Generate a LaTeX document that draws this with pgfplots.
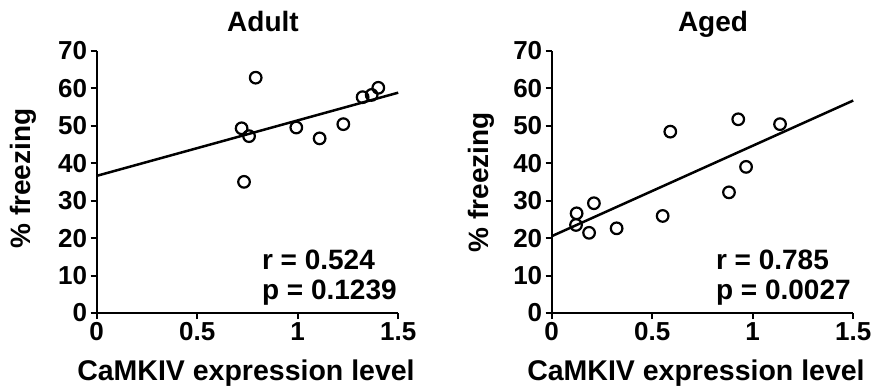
\documentclass[border=0pt]{standalone}
\usepackage{fontspec}
\setmainfont{Liberation Sans}
\usepackage{pgfplots}
\pgfplotsset{compat=1.18}

\pgfplotstableread{
x y
0.721 49.3
0.758 47.2
0.733 35.0
0.791 62.8
0.993 49.5
1.109 46.6
1.227 50.4
1.323 57.6
1.368 58.2
1.401 60.1
}\adult

\pgfplotstableread{
x y
0.124 26.6
0.121 23.5
0.186 21.4
0.210 29.3
0.323 22.6
0.552 25.9
0.590 48.4
0.882 32.2
0.928 51.7
0.967 39.0
1.136 50.4
}\aged

\pgfplotsset{
  panel/.style={
    scale only axis,
    width=301.5pt, height=262.3pt,
    anchor=south west,
    xmin=0, xmax=1.5, ymin=0, ymax=70,
    axis lines=left,
    axis line style={-, line width=2pt},
    xtick={0,0.5,1,1.5},
    xticklabels={0,0.5,1,1.5},
    ytick={0,10,...,70},
    tick align=outside,
    major tick length=6pt,
    tick style={line width=2pt, black},
    /pgf/number format/assume math mode=true,
    tick label style={font=\fontsize{26}{26}\selectfont\bfseries},
    xticklabel style={yshift=0pt},
    yticklabel style={xshift=0pt},
    clip=false,
  },
  pts/.style={only marks, mark=o, mark size=5.8pt, mark options={line width=2.2pt, black}},
  fit/.style={black, line width=2.5pt, no marks},
}

\begin{document}
\begin{tikzpicture}
\path[use as bounding box] (0,0) rectangle (880pt,-389pt);

\begin{axis}[panel, at={(96.7pt,-313pt)}]
\addplot[fit] coordinates {(0,36.6) (1.5,58.8)};
\addplot[pts] table {\adult};
\node[anchor=base west, font=\fontsize{28}{28}\selectfont\bfseries] at (axis cs:0.805,11.5) {r = 0.524};
\node[anchor=base west, font=\fontsize{28}{28}\selectfont\bfseries] at (axis cs:0.805,3.5) {p = 0.1239};
\end{axis}

\begin{axis}[panel, at={(551.7pt,-313pt)}]
\addplot[fit] coordinates {(0,20.5) (1.5,56.7)};
\addplot[pts] table {\aged};
\node[anchor=base west, font=\fontsize{28}{28}\selectfont\bfseries] at (axis cs:0.80,11.5) {r = 0.785};
\node[anchor=base west, font=\fontsize{28}{28}\selectfont\bfseries] at (axis cs:0.80,3.5) {p = 0.0027};
\end{axis}

\node[anchor=base, font=\fontsize{28}{28}\selectfont\bfseries] at (263pt,-31.7pt) {Adult};
\node[anchor=base, font=\fontsize{28}{28}\selectfont\bfseries] at (713pt,-31.7pt) {Aged};
\node[anchor=base, font=\fontsize{28.5}{28}\selectfont\bfseries] at (246pt,-380pt) {CaMKIV expression level};
\node[anchor=base, font=\fontsize{28.5}{28}\selectfont\bfseries] at (696pt,-380pt) {CaMKIV expression level};
\node[rotate=90, font=\fontsize{28}{28}\selectfont\bfseries] at (23.5pt,-178.5pt) {\% freezing};
\node[rotate=90, font=\fontsize{28}{28}\selectfont\bfseries] at (481.5pt,-182pt) {\% freezing};
\end{tikzpicture}
\end{document}
